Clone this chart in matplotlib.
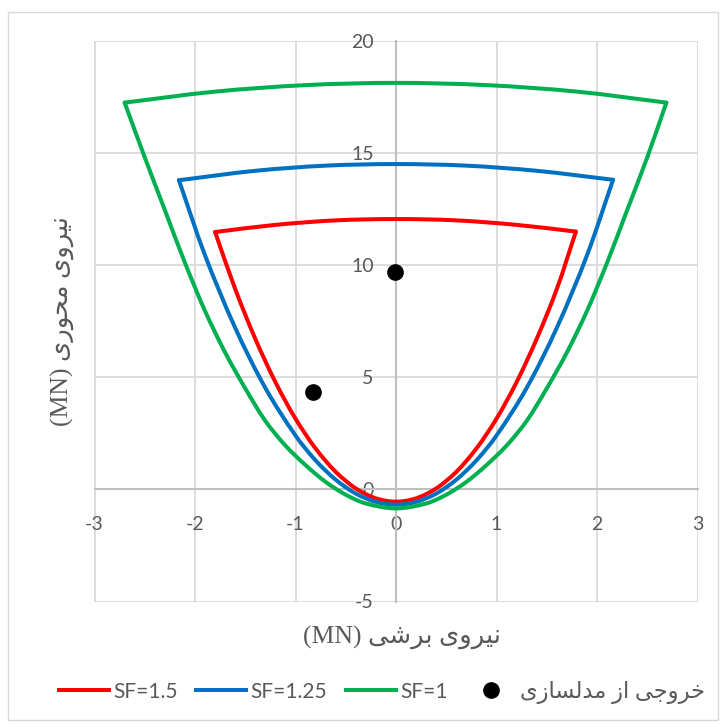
import matplotlib
matplotlib.use("Agg")
import math
import matplotlib.pyplot as plt
from matplotlib.path import Path
from matplotlib.patches import PathPatch, Rectangle
from matplotlib.lines import Line2D
from matplotlib import font_manager, ft2font

# ---------------- data ----------------
x_ticks = [-3, -2, -1, 0, 1, 2, 3]
y_ticks = [-5, 0, 5, 10, 15, 20]

# SF = 1.5 (red): side envelope and top cap
sf15_side_x = [-1.80, -1.60, -1.40, -1.20, -1.00, -0.80, -0.60, -0.40, -0.20, 0.00,
               0.20, 0.40, 0.60, 0.80, 1.00, 1.20, 1.40, 1.60, 1.79]
sf15_side_y = [11.47, 8.93, 6.71, 4.78, 3.15, 1.82, 0.78, 0.04, -0.40, -0.55,
               -0.40, 0.04, 0.78, 1.82, 3.15, 4.78, 6.71, 8.93, 11.49]
sf15_cap_x = [-1.80, -1.20, -0.60, 0.00, 0.60, 1.20, 1.79]
sf15_cap_y = [11.47, 11.79, 11.99, 12.05, 11.99, 11.79, 11.49]

# SF = 1.25 (blue)
sf125_side_x = [-2.16, -1.90, -1.60, -1.30, -1.00, -0.80, -0.60, -0.40, -0.20, 0.00,
                0.20, 0.40, 0.60, 0.80, 1.00, 1.30, 1.60, 1.90, 2.16]
sf125_side_y = [13.78, 10.43, 7.20, 4.52, 2.40, 1.29, 0.43, -0.19, -0.56, -0.68,
                -0.56, -0.19, 0.43, 1.29, 2.40, 4.52, 7.20, 10.43, 13.80]
sf125_cap_x = [-2.16, -1.40, -0.70, 0.00, 0.70, 1.40, 2.16]
sf125_cap_y = [13.78, 14.20, 14.43, 14.50, 14.43, 14.20, 13.80]

# SF = 1 (green)
sf1_side_x = [-2.70, -2.50, -2.30, -2.10, -1.90, -1.70, -1.50, -1.30, -1.10, -0.90, -0.70, -0.50, -0.30, 0.00,
              0.30, 0.50, 0.70, 0.90, 1.10, 1.30, 1.50, 1.70, 1.90, 2.10, 2.30, 2.50, 2.69]
sf1_side_y = [17.24, 14.80, 12.45, 10.10, 7.95, 6.10, 4.50, 3.05, 1.95, 1.08, 0.33, -0.24, -0.63, -0.85,
              -0.63, -0.24, 0.33, 1.08, 1.95, 3.05, 4.50, 6.10, 7.95, 10.10, 12.45, 14.80, 17.24]
sf1_cap_x = [-2.70, -1.80, -0.90, 0.00, 0.90, 1.80, 2.69]
sf1_cap_y = [17.24, 17.73, 18.02, 18.12, 18.02, 17.73, 17.24]

# model output points
model_x = [-0.83, -0.01]
model_y = [4.33, 9.70]

series_labels = ["SF=1.5", "SF=1.25", "SF=1"]
series_colors = ["#FF0000", "#0070C0", "#00B050"]

x_title = "نیروی برشی"
y_title = "نیروی محوری"
model_label = "خروجی از مدلسازی"

# ---------------- Persian shaping helpers ----------------
_dv = ft2font.FT2Font(font_manager.findfont("DejaVu Sans"))
_cmap = _dv.get_charmap()

def _pick(a, b):
    return chr(a) if a in _cmap else chr(b)

# (isolated, final, initial, medial); None for letters that never join forward
FORMS = {
    "ن": (0xFEE5, 0xFEE6, 0xFEE7, 0xFEE8),
    "ر": (0xFEAD, 0xFEAE, None, None),
    "و": (0xFEED, 0xFEEE, None, None),
    "ب": (0xFE8F, 0xFE90, 0xFE91, 0xFE92),
    "ش": (0xFEB5, 0xFEB6, 0xFEB7, 0xFEB8),
    "م": (0xFEE1, 0xFEE2, 0xFEE3, 0xFEE4),
    "ح": (0xFEA1, 0xFEA2, 0xFEA3, 0xFEA4),
    "خ": (0xFEA5, 0xFEA6, 0xFEA7, 0xFEA8),
    "ج": (0xFE9D, 0xFE9E, 0xFE9F, 0xFEA0),
    "ا": (0xFE8D, 0xFE8E, None, None),
    "ز": (0xFEAF, 0xFEB0, None, None),
    "د": (0xFEA9, 0xFEAA, None, None),
    "ل": (0xFEDD, 0xFEDE, 0xFEDF, 0xFEE0),
    "س": (0xFEB1, 0xFEB2, 0xFEB3, 0xFEB4),
}
YEH = (_pick(0xFBFC, 0xFEEF), _pick(0xFBFD, 0xFEF0),
       _pick(0xFBFE, 0xFEF3), _pick(0xFBFF, 0xFEF4))


def _forms(ch):
    if ch == "ی":
        return YEH
    f = FORMS[ch]
    return tuple(chr(c) if c is not None else None for c in f)


def _is_letter(ch):
    return ch == "ی" or ch in FORMS


def _dual(ch):
    return _is_letter(ch) and _forms(ch)[2] is not None


def shape_rtl(text):
    out = []
    for i, ch in enumerate(text):
        if not _is_letter(ch):
            out.append(ch)
            continue
        prev = text[i - 1] if i > 0 else ""
        nxt = text[i + 1] if i + 1 < len(text) else ""
        join_prev = _dual(prev)
        join_next = _dual(ch) and _is_letter(nxt)
        iso, fin, ini, med = _forms(ch)
        if join_prev and join_next:
            out.append(med)
        elif join_prev:
            out.append(fin)
        elif join_next:
            out.append(ini)
        else:
            out.append(iso)
    return "".join(reversed(out))


# ---------------- smooth curve helper (chord-length cubic Hermite as Beziers) ----------------
def smooth_path(xs, ys, sx=100.5, sy=22.43):
    # tangents are estimated in screen-like proportions
    pts = [(x * sx, y * sy) for x, y in zip(xs, ys)]
    n = len(pts)
    t = [0.0]
    for i in range(1, n):
        t.append(t[-1] + math.hypot(pts[i][0] - pts[i - 1][0], pts[i][1] - pts[i - 1][1]))
    tang = []
    for i in range(n):
        a = pts[max(i - 1, 0)]
        b = pts[min(i + 1, n - 1)]
        dt = t[min(i + 1, n - 1)] - t[max(i - 1, 0)]
        tang.append(((b[0] - a[0]) / dt, (b[1] - a[1]) / dt))
    verts = [pts[0]]
    codes = [Path.MOVETO]
    for i in range(n - 1):
        h = (t[i + 1] - t[i]) / 3.0
        c1 = (pts[i][0] + tang[i][0] * h, pts[i][1] + tang[i][1] * h)
        c2 = (pts[i + 1][0] - tang[i + 1][0] * h, pts[i + 1][1] - tang[i + 1][1] * h)
        verts += [c1, c2, pts[i + 1]]
        codes += [Path.CURVE4] * 3
    verts = [(vx / sx, vy / sy) for vx, vy in verts]
    return Path(verts, codes)


# ---------------- figure ----------------
plt.rcParams["axes.unicode_minus"] = False
W, H = 725, 727
fig = plt.figure(figsize=(W / 100, H / 100), dpi=100)

left_px, right_px, top_px, bottom_px = 94.5, 697.5, 40.7, 601.5
ax = fig.add_axes([left_px / W, 1 - bottom_px / H,
                   (right_px - left_px) / W, (bottom_px - top_px) / H])
ax.set_xlim(-3, 3)
ax.set_ylim(-5, 20)

grid_c = "#d9d9d9"
ax.set_xticks(x_ticks)
ax.set_yticks(y_ticks)
ax.grid(True, color=grid_c, lw=1.3, zorder=0)
ax.set_axisbelow(True)

for s in ["top", "right"]:
    ax.spines[s].set_visible(False)
for s in ["left", "bottom"]:
    ax.spines[s].set_position(("data", 0))
    ax.spines[s].set_color("#bfbfbf")
    ax.spines[s].set_linewidth(1.5)
    ax.spines[s].set_zorder(1)

tick_font = dict(family=["Lato", "DejaVu Sans"], size=14)
ax.tick_params(axis="both", length=0, colors="#595959")
ax.tick_params(axis="x", pad=19)
ax.tick_params(axis="y", pad=16)
ax.set_xticklabels([str(v) for v in x_ticks], fontdict=tick_font)
ax.set_yticklabels([str(v) for v in y_ticks], fontdict=tick_font)

side_data = [(sf15_side_x, sf15_side_y), (sf125_side_x, sf125_side_y), (sf1_side_x, sf1_side_y)]
cap_data = [(sf15_cap_x, sf15_cap_y), (sf125_cap_x, sf125_cap_y), (sf1_cap_x, sf1_cap_y)]

for (sx_, sy_), (cx, cy), col in zip(side_data, cap_data, series_colors):
    for xs, ys in [(sx_, sy_), (cx, cy)]:
        patch = PathPatch(smooth_path(xs, ys), facecolor="none", edgecolor=col,
                          lw=2.9, capstyle="round", joinstyle="round", zorder=3)
        ax.add_patch(patch)

ax.plot(model_x, model_y, "o", color="black", markersize=11, zorder=4, linestyle="none")

title_fam = ["Liberation Serif", "DejaVu Sans"]
fig.text(402 / W, 1 - 637 / H,
         "(MN) " + shape_rtl(x_title), family=title_fam, size=18.5,
         color="#595959", ha="center", va="center")
fig.text(62 / W, 1 - 321 / H,
         "(MN) " + shape_rtl(y_title), family=title_fam, size=18.5,
         color="#595959", ha="center", va="center", rotation=90)

handles = [Line2D([], [], color=c, lw=2.9) for c in series_colors]
handles.append(Line2D([], [], color="black", marker="o", markersize=11, linestyle="none"))
labels = series_labels + [shape_rtl(model_label)]
leg = fig.legend(handles, labels, loc="center", bbox_to_anchor=(382 / W, 1 - 692 / H),
                 ncol=4, frameon=False, handlelength=2.4, handletextpad=0.2,
                 columnspacing=0.9, prop=dict(family=["Lato", "DejaVu Sans"], size=15))
for t in leg.get_texts():
    t.set_color("#595959")
leg.get_texts()[-1].set_fontsize(16.3)

fig.add_artist(Rectangle((8 / W, 1 - 720 / H), (718 - 8) / W, (720 - 12) / H,
                         transform=fig.transFigure, facecolor="none",
                         edgecolor="#d9d9d9", lw=1.0))

fig.savefig("out.png", dpi=100)
